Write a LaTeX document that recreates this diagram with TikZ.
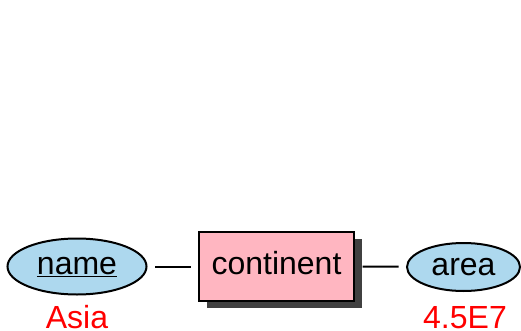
\documentclass[tikz,border=0pt]{standalone}
\usepackage{fontspec}
\setmainfont{Liberation Sans}
\usetikzlibrary{shapes.geometric}
\definecolor{attrblue}{HTML}{ADD8EE}
\definecolor{entpink}{HTML}{FFB6C1}
\definecolor{shadowgray}{HTML}{404040}
\begin{document}
\begin{tikzpicture}[x=1pt,y=-1pt,
  bigfont/.style={font=\fontsize{32}{36}\selectfont},
  attr/.style={shape=ellipse, draw=black, line width=2pt, fill=attrblue, inner sep=0pt, bigfont, text height=22pt, text depth=6pt},
  entity/.style={shape=rectangle, draw=black, line width=2pt, fill=entpink, inner sep=0pt, bigfont, text height=22pt, text depth=6pt, minimum width=155pt, minimum height=69pt},
  conn/.style={line width=2pt, shorten <=7.5pt, shorten >=7.5pt},
  val/.style={text=red, bigfont, anchor=base, inner sep=0pt}
]
\useasboundingbox (0,0) rectangle (521,331);
\fill[shadowgray] (206.5,239) rectangle (361.5,308);
\node[entity] (cont) at (276.5,266.5) {continent};
\node[attr, minimum width=139pt, minimum height=56pt] (name) at (77,266.5) {\underline{name}};
\node[attr, minimum width=113pt, minimum height=48pt] (area) at (463.5,267) {area};
\draw[conn] (name) -- (cont);
\draw[conn] (cont.east) -- (area);
\node[val] (asia) at (77,328) {Asia};
\node[val] (areaval) at (465,328) {4.5E7};
\end{tikzpicture}
\end{document}
